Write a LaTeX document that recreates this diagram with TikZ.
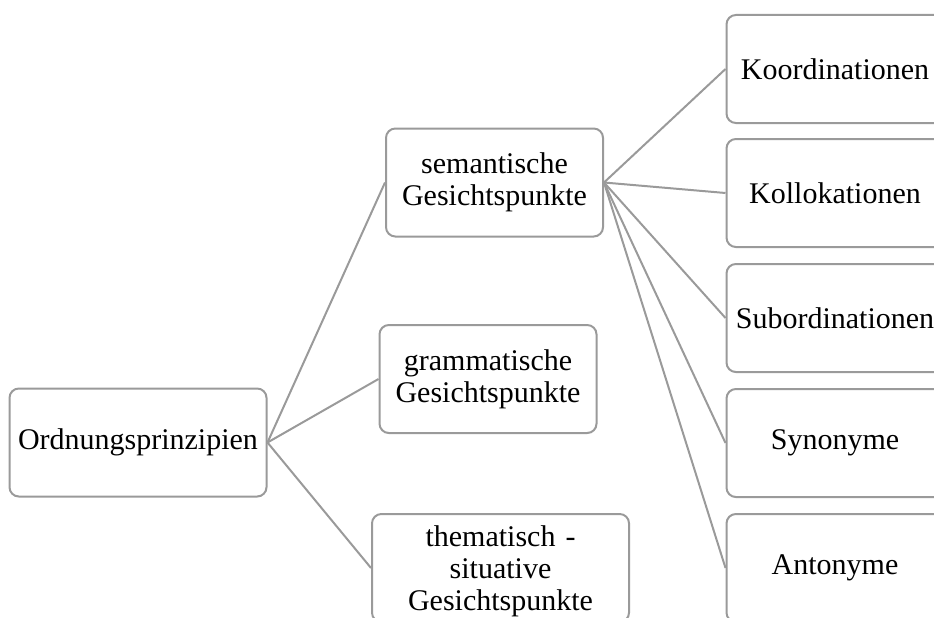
\documentclass[tikz,border=0pt]{standalone}
\usepackage{fontspec}
\setmainfont{Liberation Serif}
\usetikzlibrary{calc}
\definecolor{rahmen}{RGB}{154,154,154}
\tikzset{
	box/.style={draw=rahmen, line width=1.5pt, rounded corners=7pt, fill=white,
		align=center, inner sep=2pt, minimum height=108*0.75pt,
		font=\fontsize{22.5}{24}\selectfont},
	schmal/.style={box, minimum width=217*0.75pt, text width=200*0.75pt},
	breit/.style={box, minimum width=257*0.75pt, text width=240*0.75pt},
	ast/.style={draw=rahmen, line width=1.5pt},
}

\begin{document}
\begin{tikzpicture}[x=0.75pt,y=-0.75pt]
\useasboundingbox (0,0) rectangle (934,617);
\clip (0,0) rectangle (934,617);
% linke Spalte
\node[breit] (ordn) at (138,442.5) {Ordnungsprinzipien};
% mittlere Spalte
\node[schmal] (sem) at (494.5,182.5) {semantische\\Gesichtspunkte};
\node[schmal] (gram) at (488,379) {grammatische\\Gesichtspunkte};
\node[breit] (them) at (500.5,568) {\rule{0pt}{20pt}thematisch -\\situative\\Gesichtspunkte};
% rechte Spalte
\node[schmal] (koord) at (835,69) {Koordinationen};
\node[schmal] (koll) at (835,193) {Kollokationen};
\node[schmal] (subord) at (835,318) {Subordinationen};
\node[schmal] (syn) at (835,443) {Synonyme};
\node[schmal] (ant) at (835,568) {Antonyme};
% Verbindungen
\draw[ast] (ordn.east) -- (sem.west);
\draw[ast] (ordn.east) -- (gram.west);
\draw[ast] (ordn.east) -- (them.west);
\foreach \z in {koord,koll,subord,syn,ant}
	\draw[ast] (sem.east) -- (\z.west);
\end{tikzpicture}
\end{document}
